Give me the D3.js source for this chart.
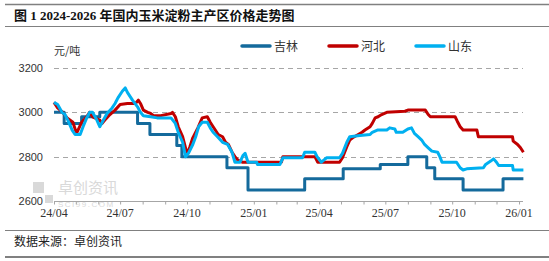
<!DOCTYPE html>
<html>
<head>
<meta charset="utf-8">
<script src="https://cdn.jsdelivr.net/npm/d3@7"></script>
<style>
  body { margin: 0; background: #fff; }
  svg { display: block; }
</style>
</head>
<body>
<svg id="chart" width="549" height="261"></svg>
<script>
var seriesNames = ['吉林', '河北', '山东'];
var seriesColors = ['#146a9c', '#c00000', '#00b0f0'];
var yTicks = [2600, 2800, 3000, 3200];
var xLabels = ['24/04', '24/07', '24/10', '25/01', '25/04', '25/07', '25/10', '26/01'];

// 吉林 (step series)
var jilin = [
	['2024-04-01', 3000], ['2024-04-15', 2950], ['2024-05-09', 2980], ['2024-06-03', 3000],
	['2024-07-25', 2950], ['2024-08-11', 2900], ['2024-09-17', 2850], ['2024-09-24', 2800],
	['2024-11-25', 2750], ['2024-12-24', 2650], ['2025-03-12', 2700], ['2025-05-04', 2745],
	['2025-06-24', 2765], ['2025-08-01', 2800], ['2025-08-27', 2750], ['2025-09-07', 2700],
	['2025-10-16', 2650], ['2025-12-10', 2700], ['2026-01-07', 2700]
];

// 河北
var hebei = [
	['2024-04-01', 3045], ['2024-04-06', 3020], ['2024-04-13', 3000], ['2024-04-19', 2975],
	['2024-04-27', 2955], ['2024-05-02', 2905], ['2024-05-09', 2955], ['2024-05-16', 2980],
	['2024-05-20', 3000], ['2024-05-24', 2980], ['2024-06-03', 2965], ['2024-06-06', 2950],
	['2024-06-10', 2965], ['2024-06-17', 2990], ['2024-06-24', 3010], ['2024-07-01', 3035],
	['2024-07-11', 3040], ['2024-07-22', 3040], ['2024-07-26', 3055], ['2024-07-29', 3040],
	['2024-08-02', 3010], ['2024-08-08', 3000], ['2024-08-12', 2995], ['2024-08-16', 2985],
	['2024-08-26', 2985], ['2024-09-09', 2995], ['2024-09-11', 3000], ['2024-09-15', 2980],
	['2024-09-19', 2935], ['2024-09-25', 2890], ['2024-09-29', 2840], ['2024-10-01', 2810],
	['2024-10-05', 2845], ['2024-10-09', 2885], ['2024-10-16', 2930], ['2024-10-22', 2975],
	['2024-10-29', 2980], ['2024-11-02', 2955], ['2024-11-06', 2935], ['2024-11-13', 2900],
	['2024-11-19', 2890], ['2024-11-23', 2865], ['2024-11-27', 2855], ['2024-12-02', 2820],
	['2024-12-06', 2800], ['2024-12-10', 2785], ['2024-12-16', 2775], ['2025-02-08', 2775],
	['2025-02-10', 2800], ['2025-03-26', 2800], ['2025-03-30', 2775], ['2025-04-29', 2775],
	['2025-05-03', 2795], ['2025-05-09', 2845], ['2025-05-13', 2875], ['2025-05-17', 2885],
	['2025-05-30', 2910], ['2025-06-03', 2920], ['2025-06-10', 2935], ['2025-06-13', 2950],
	['2025-06-17', 2975], ['2025-06-21', 2980], ['2025-06-26', 2990], ['2025-07-03', 3000],
	['2025-07-28', 3005], ['2025-08-01', 3010], ['2025-08-25', 3010], ['2025-08-29', 2990],
	['2025-09-01', 2980], ['2025-10-05', 2980], ['2025-10-08', 2960], ['2025-10-12', 2935],
	['2025-10-16', 2920], ['2025-11-04', 2920], ['2025-11-06', 2890], ['2025-12-23', 2890],
	['2025-12-24', 2870], ['2025-12-30', 2855], ['2026-01-03', 2840], ['2026-01-07', 2820]
];

// 山东
var shandong = [
	['2024-04-01', 3045], ['2024-04-06', 3035], ['2024-04-12', 3000], ['2024-04-16', 2990],
	['2024-04-20', 2965], ['2024-04-26', 2920], ['2024-04-30', 2900], ['2024-05-07', 2900],
	['2024-05-11', 2935], ['2024-05-16', 2975], ['2024-05-20', 3000], ['2024-05-24', 3000],
	['2024-05-30', 2965], ['2024-06-03', 2935], ['2024-06-08', 2965], ['2024-06-13', 2995],
	['2024-06-20', 3020], ['2024-06-24', 3040], ['2024-06-28', 3065], ['2024-07-04', 3095],
	['2024-07-08', 3110], ['2024-07-11', 3090], ['2024-07-18', 3055], ['2024-07-25', 3025],
	['2024-07-29', 3000], ['2024-08-02', 2985], ['2024-08-12', 2980], ['2024-08-21', 2975],
	['2024-09-09', 2975], ['2024-09-15', 2950], ['2024-09-19', 2910], ['2024-09-25', 2865],
	['2024-09-29', 2800], ['2024-10-03', 2815], ['2024-10-09', 2855], ['2024-10-13', 2890],
	['2024-10-17', 2935], ['2024-10-22', 2955], ['2024-10-29', 2955], ['2024-11-02', 2930],
	['2024-11-06', 2910], ['2024-11-12', 2890], ['2024-11-19', 2865], ['2024-11-26', 2855],
	['2024-12-02', 2820], ['2024-12-06', 2775], ['2024-12-13', 2775], ['2024-12-17', 2805],
	['2024-12-20', 2815], ['2024-12-24', 2775], ['2025-01-05', 2775], ['2025-01-06', 2765],
	['2025-02-06', 2765], ['2025-02-10', 2795], ['2025-03-09', 2795], ['2025-03-12', 2820],
	['2025-03-26', 2820], ['2025-03-29', 2800], ['2025-04-04', 2775], ['2025-04-11', 2795],
	['2025-04-29', 2795], ['2025-05-03', 2815], ['2025-05-09', 2865], ['2025-05-13', 2890],
	['2025-05-27', 2895], ['2025-06-10', 2900], ['2025-06-13', 2910], ['2025-06-20', 2920],
	['2025-07-03', 2920], ['2025-07-07', 2930], ['2025-07-14', 2925], ['2025-07-16', 2910],
	['2025-07-25', 2910], ['2025-08-01', 2925], ['2025-08-06', 2930], ['2025-08-10', 2905],
	['2025-08-15', 2890], ['2025-08-20', 2875], ['2025-08-24', 2855], ['2025-08-29', 2840],
	['2025-09-03', 2825], ['2025-09-11', 2820], ['2025-09-14', 2800], ['2025-09-17', 2775],
	['2025-10-07', 2775], ['2025-10-12', 2750], ['2025-10-16', 2740], ['2025-10-21', 2745],
	['2025-11-13', 2750], ['2025-11-16', 2765], ['2025-11-23', 2780], ['2025-11-27', 2790],
	['2025-12-01', 2775], ['2025-12-04', 2760], ['2025-12-23', 2760], ['2025-12-24', 2740],
	['2026-01-07', 2740]
];

var parse = d3.timeParse('%Y-%m-%d');
function toPoints(arr) {
	return arr.map(function(d) { return {date: parse(d[0]), value: d[1]}; });
}
var series = [toPoints(jilin), toPoints(hebei), toPoints(shandong)];
var curves = [d3.curveStepAfter, d3.curveLinear, d3.curveLinear];

var svg = d3.select('#chart');
var serif = '"Liberation Serif", "Noto Sans CJK SC", serif';
var cjk = '"Noto Sans CJK SC", sans-serif';

// frame lines
svg.append('line').attr('x1', 5).attr('x2', 549).attr('y1', 4.5).attr('y2', 4.5)
	.attr('stroke', '#808080').attr('stroke-width', 1.5);
svg.append('line').attr('x1', 5).attr('x2', 549).attr('y1', 26.5).attr('y2', 26.5)
	.attr('stroke', '#808080').attr('stroke-width', 1);
svg.append('line').attr('x1', 5).attr('x2', 549).attr('y1', 230.5).attr('y2', 230.5)
	.attr('stroke', '#808080').attr('stroke-width', 1);
svg.append('line').attr('x1', 5).attr('x2', 549).attr('y1', 257).attr('y2', 257)
	.attr('stroke', '#808080').attr('stroke-width', 2);

svg.append('text').attr('x', 14).attr('y', 20)
	.attr('font-family', serif).attr('font-size', 13).attr('font-weight', 'bold')
	.attr('fill', '#111')
	.text('图 1 2024-2026 年国内玉米淀粉主产区价格走势图');

svg.append('text').attr('x', 14).attr('y', 246)
	.attr('font-family', cjk).attr('font-size', 12).attr('fill', '#222')
	.text('数据来源：卓创资讯');

svg.append('text').attr('x', 54).attr('y', 55)
	.attr('font-family', cjk).attr('font-size', 11).attr('fill', '#333')
	.text('元/吨');

// scales
var x = d3.scaleTime()
	.domain([parse('2024-04-01'), parse('2026-01-07')])
	.range([54, 523.4]);
var y = d3.scaleLinear().domain([2600, 3200]).range([201, 68]);

// watermark
var wm = svg.append('g').attr('fill', '#d9d9d9');
wm.append('rect').attr('x', 33).attr('y', 182).attr('width', 11).attr('height', 11);
wm.append('rect').attr('x', 45).attr('y', 195).attr('width', 8).attr('height', 8);
wm.append('text').attr('x', 58).attr('y', 193).attr('font-family', cjk)
	.attr('font-size', 15).text('卓创资讯');
wm.append('text').attr('x', 58).attr('y', 207).attr('font-family', 'Liberation Sans')
	.attr('font-size', 8).attr('letter-spacing', 1.5).text('SCI99.COM');

// grid
svg.append('g').selectAll('line')
	.data(yTicks.filter(function(d) { return d > 2600; }))
	.enter().append('line')
	.attr('x1', 54).attr('x2', 523)
	.attr('y1', function(d) { return Math.round(y(d)) + 0.5; })
	.attr('y2', function(d) { return Math.round(y(d)) + 0.5; })
	.attr('stroke', '#a6a6a6').attr('stroke-dasharray', '5,4');

// y labels
svg.append('g').selectAll('text')
	.data(yTicks)
	.enter().append('text')
	.attr('x', 43).attr('y', function(d) { return y(d) + 4; })
	.attr('text-anchor', 'end')
	.attr('font-family', '"Liberation Sans", Arial, sans-serif')
	.attr('font-size', 11).attr('fill', '#333')
	.text(function(d) { return d; });

// x axis
var xAxis = d3.axisBottom(x)
	.ticks(d3.timeMonth.every(1))
	.tickSize(3)
	.tickFormat('');
var gx = svg.append('g').attr('transform', 'translate(0,201.5)').call(xAxis);
gx.select('.domain').attr('stroke', '#a6a6a6').attr('d', 'M54,0H523');
gx.selectAll('.tick line').attr('stroke', '#a6a6a6');

var quarterTicks = d3.timeMonth.every(3).range(parse('2024-04-01'), parse('2026-01-02'));
svg.append('g').selectAll('text')
	.data(quarterTicks)
	.enter().append('text')
	.attr('x', function(d) { return x(d); })
	.attr('y', 217)
	.attr('text-anchor', 'middle')
	.attr('font-family', serif).attr('font-size', 12).attr('fill', '#333')
	.text(function(d, i) { return xLabels[i]; });

// lines
series.forEach(function(data, i) {
	var line = d3.line()
		.x(function(d) { return x(d.date); })
		.y(function(d) { return y(d.value); })
		.curve(curves[i]);
	svg.append('path')
		.datum(data)
		.attr('fill', 'none')
		.attr('stroke', seriesColors[i])
		.attr('stroke-width', 3)
		.attr('stroke-linejoin', 'round')
		.attr('d', line);
});

// legend
var legendX = [242, 329, 416];
var legend = svg.append('g').selectAll('g')
	.data(seriesNames)
	.enter().append('g')
	.attr('transform', function(d, i) { return 'translate(' + legendX[i] + ',46)'; });
legend.append('line')
	.attr('x1', 0).attr('x2', 28)
	.attr('stroke', function(d, i) { return seriesColors[i]; })
	.attr('stroke-width', 3.5).attr('stroke-linecap', 'round');
legend.append('text')
	.attr('x', 32).attr('y', 4.5)
	.attr('font-family', cjk).attr('font-size', 12).attr('fill', '#333')
	.text(function(d) { return d; });
</script>
</body>
</html>
